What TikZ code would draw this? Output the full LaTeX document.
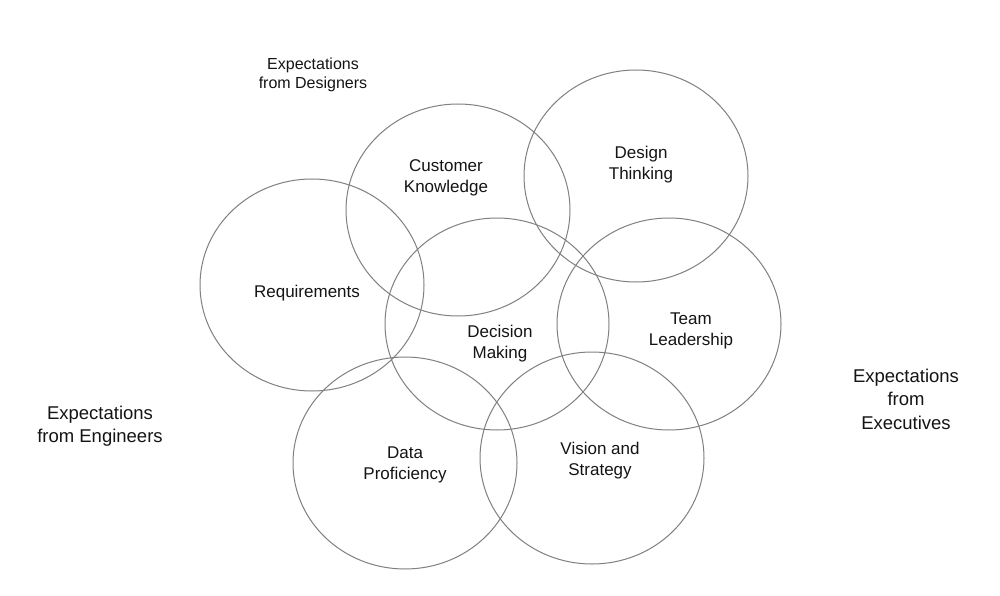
\documentclass[tikz,border=0pt]{standalone}
\usepackage{fontspec}
\setmainfont{Liberation Sans}
\usetikzlibrary{shapes.geometric}
\definecolor{ringgray}{RGB}{128,128,128}
\definecolor{ink}{RGB}{20,20,20}
\begin{document}
\begin{tikzpicture}[x=1pt,y=-1pt,
  ring/.style={draw=ringgray, line width=1pt, ellipse, minimum width=224pt, minimum height=212pt, inner sep=0pt},
  lbl/.style={text=ink, align=center, inner sep=0pt, font=\fontsize{17}{21}\selectfont},
  toplbl/.style={text=ink, align=center, inner sep=0pt, font=\fontsize{16}{19.5}\selectfont},
  biglbl/.style={text=ink, align=center, inner sep=0pt, font=\fontsize{18.5}{23.5}\selectfont}]
\useasboundingbox (0,0) rectangle (1000,596);
\fill[white] (0,0) rectangle (1000,596);
% rings
\node[ring] (cust) at (458,210) {};
\node[ring] (desg) at (636,176) {};
\node[ring] (reqs) at (312,285) {};
\node[ring] (deci) at (497,324) {};
\node[ring] (team) at (669,324) {};
\node[ring] (data) at (405,463) {};
\node[ring] (visn) at (592,458) {};
% ring labels
\node[lbl] (tcust) at (446,178) {Customer\\Knowledge};
\node[lbl] (tdesg) at (641,165) {Design\\Thinking};
\node[lbl] (treqs) at (307,293) {Requirements};
\node[lbl] (tdeci) at (500,344) {Decision\\Making};
\node[lbl] (tteam) at (691,331) {Team\\Leadership};
\node[lbl] (tdata) at (405,465) {Data\\Proficiency};
\node[lbl] (tvisn) at (600,461) {Vision and\\Strategy};
% group labels
\node[toplbl] (gdes) at (313,75) {Expectations\\from Designers};
\node[biglbl] (geng) at (100,426) {Expectations\\from Engineers};
\node[biglbl] (gexe) at (906,399) {Expectations\\from\\Executives};
\end{tikzpicture}
\end{document}
